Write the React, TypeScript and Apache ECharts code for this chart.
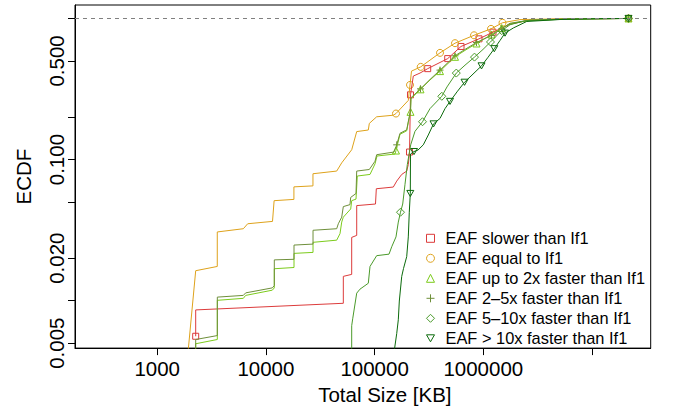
import React, { useEffect, useRef } from "react";
import * as echarts from "echarts";

// ---- axis ticks / labels ----
const xTickValues = [1000, 10000, 100000, 1000000, 10000000];
const xLabelValues = [1000, 10000, 100000, 1000000];
const yTickValues = [0.005, 0.01, 0.02, 0.05, 0.1, 0.2, 0.5, 1];
const yLabelValues = [0.005, 0.02, 0.1, 0.5];
const xRangeKB = [175.3, 34670000];
const yRange = [0.004613, 1.2458];

// ---- series names / colours ----
const seriesNames = [
  "EAF slower than If1",
  "EAF equal to If1",
  "EAF up to 2x faster than If1",
  "EAF 2–5x faster than If1",
  "EAF 5–10x faster than If1",
  "EAF > 10x faster than If1",
];
const seriesColors = ["#DC3B3B", "#DEA21B", "#7CCB1C", "#6E8F3A", "#4A9A2A", "#0B6A0B"];

// ---- EAF slower than If1 ----
const slowerKB = [2260, 2260, 51540, 51540, 61550, 61550, 68450, 68450, 101900, 103700, 148600, 159700, 177600, 197400, 204200, 209500, 213900, 227000, 261600, 307900, 470500, 623500, 912700, 1228000, 1761000, 2689000, 6276000, 21670000];
const slowerF = [0.005596, 0.008603, 0.009583, 0.01487, 0.01536, 0.02809, 0.02902, 0.04719, 0.04842, 0.06213, 0.06386, 0.07036, 0.07847, 0.0829, 0.09218, 0.1131, 0.2877, 0.3908, 0.4102, 0.441, 0.5195, 0.6333, 0.7172, 0.8, 0.91, 0.9754, 0.9944, 1];
const slowerMarks = [0, 15, 16, 19, 20, 21, 22, 23, 27];

// ---- EAF equal to If1 ----
const equalKB = [1750, 2260, 3570, 3570, 6200, 6800, 11500, 11900, 18100, 18100, 27100, 27100, 44800, 49800, 61600, 68450, 87500, 89400, 104500, 148600, 157300, 204200, 211700, 218500, 265600, 399600, 549200, 821100, 1177000, 1502000, 2176000, 5077000, 21670000];
const equalF = [0.002, 0.01631, 0.01748, 0.03069, 0.03236, 0.03509, 0.03647, 0.05114, 0.05222, 0.06406, 0.0651, 0.07937, 0.0829, 0.09475, 0.1174, 0.1579, 0.162, 0.1804, 0.201, 0.2062, 0.212, 0.2626, 0.3381, 0.4236, 0.4539, 0.5706, 0.6682, 0.76, 0.844, 0.9324, 0.9817, 0.9944, 1];
const equalMarks = [20, 22, 24, 25, 26, 27, 28, 29, 32];

// ---- EAF up to 2x faster than If1 ----
const upTo2KB = [2260, 2260, 3573, 3573, 6197, 6518, 11454, 11949, 11949, 18137, 18137, 27131, 27131, 44800, 48060, 49820, 51540, 60260, 61550, 67440, 69330, 90720, 100900, 105200, 154000, 157300, 171300, 197400, 204200, 213900, 216100, 264400, 323300, 399600, 549200, 678800, 865800, 1190000, 1477000, 1761000, 2689000, 6276000, 21670000];
const upTo2F = [0.002154, 0.004952, 0.005307, 0.01006, 0.01039, 0.0109, 0.01187, 0.01232, 0.01684, 0.01719, 0.02164, 0.02199, 0.02592, 0.02685, 0.02986, 0.03606, 0.03908, 0.04467, 0.05114, 0.05247, 0.07647, 0.07847, 0.09324, 0.106, 0.1095, 0.1159, 0.1511, 0.1599, 0.1834, 0.2179, 0.2699, 0.3146, 0.3664, 0.4236, 0.535, 0.594, 0.665, 0.7704, 0.8561, 0.9175, 0.9707, 0.9912, 1];
const upTo2Marks = [25, 29, 31, 33, 34, 36, 37, 38, 42];

// ---- EAF 2-5x faster than If1 ----
const x2to5KB = [2260, 2260, 3573, 3573, 6197, 6518, 11454, 11949, 11949, 18137, 18137, 27131, 27131, 44800, 46360, 49820, 51540, 59380, 60260, 67440, 68450, 89400, 100900, 104500, 150800, 159700, 171300, 197400, 204200, 213900, 216100, 264400, 323300, 399600, 549200, 678800, 865800, 1190000, 1477000, 1761000, 2689000, 6276000, 21670000];
const x2to5F = [0.002154, 0.005307, 0.005659, 0.0106, 0.0109, 0.01136, 0.01232, 0.0128, 0.01946, 0.01965, 0.02478, 0.02518, 0.03155, 0.03236, 0.03509, 0.03908, 0.04643, 0.04795, 0.05393, 0.05751, 0.0829, 0.08506, 0.09738, 0.1083, 0.1131, 0.1272, 0.1536, 0.1625, 0.1863, 0.2225, 0.2743, 0.3171, 0.3694, 0.4305, 0.5437, 0.6036, 0.6758, 0.7582, 0.8451, 0.9249, 0.9738, 0.9928, 1];
const x2to5Marks = [25, 31, 33, 34, 36, 37, 38, 42];

// ---- EAF 5-10x faster than If1 ----
const x5to10KB = [61550, 61550, 62870, 68450, 73390, 87500, 90720, 104500, 135700, 143700, 157300, 165200, 173100, 181400, 190400, 200000, 214800, 235300, 275900, 323300, 415100, 463600, 564500, 678800, 829800, 993600, 1165000, 1477000, 1761000, 2419000, 6276000, 21670000];
const x5to10F = [0.002154, 0.006647, 0.007441, 0.01131, 0.01207, 0.01329, 0.01748, 0.02085, 0.02137, 0.02411, 0.02832, 0.03606, 0.04235, 0.04842, 0.06679, 0.09218, 0.1272, 0.1586, 0.1854, 0.2297, 0.2809, 0.3273, 0.4102, 0.4666, 0.5324, 0.6036, 0.6814, 0.82, 0.9028, 0.9629, 0.9912, 1];
const x5to10Marks = [12, 18, 20, 22, 24, 26, 27, 31];

// ---- EAF > 10x faster than If1 ----
const over10KB = [132800, 159700, 165200, 168800, 177600, 184500, 197400, 204200, 208500, 213000, 213900, 230300, 250800, 280500, 311900, 348300, 399600, 444400, 494000, 573000, 671700, 787000, 962500, 1105000, 1262000, 1424000, 1584000, 1888000, 2507000, 5077000, 11850000, 21670000];
const over10F = [0.002154, 0.005845, 0.007322, 0.009945, 0.01487, 0.01692, 0.02052, 0.02832, 0.04235, 0.05751, 0.1095, 0.114, 0.1168, 0.1272, 0.1494, 0.179, 0.1956, 0.2297, 0.2584, 0.302, 0.3531, 0.3971, 0.4613, 0.5307, 0.6105, 0.698, 0.7873, 0.8561, 0.9521, 0.9833, 0.9961, 1];
const over10Marks = [9, 11, 15, 18, 20, 22, 24, 26, 31];

const FONT = "'Liberation Sans', Arial, Helvetica, sans-serif";

const symbols = [
  "rect",
  "circle",
  "triangle",
  "path://M3.5,0 L3.5,7 M0,3.5 L7,3.5",
  "diamond",
  "path://M0,0 L8,0 L4,7 Z",
];
const symbolSizes = [6, 7, 7, 7, 8, 7];

export default function App() {
  const ref = useRef<HTMLDivElement>(null);
  useEffect(() => {
    if (!ref.current) return;
    const chart = echarts.init(ref.current, undefined, { renderer: "svg" });
    const groups = [
      { kb: slowerKB, f: slowerF, marks: slowerMarks },
      { kb: equalKB, f: equalF, marks: equalMarks },
      { kb: upTo2KB, f: upTo2F, marks: upTo2Marks },
      { kb: x2to5KB, f: x2to5F, marks: x2to5Marks },
      { kb: x5to10KB, f: x5to10F, marks: x5to10Marks },
      { kb: over10KB, f: over10F, marks: over10Marks },
    ];
    const series: any[] = [];
    groups.forEach((g, gi) => {
      const pts = g.kb.map((v, i) => [Math.log10(v), Math.log10(g.f[i])]);
      const line: any = {
        type: "line",
        name: seriesNames[gi] + " (line)",
        data: pts,
        showSymbol: false,
        symbol: "none",
        silent: true,
        clip: true,
        lineStyle: { color: seriesColors[gi], width: 1 },
        itemStyle: { color: seriesColors[gi] },
      };
      if (gi === 0) {
        line.markLine = {
          silent: true,
          symbol: ["none", "none"],
          label: { show: false },
          lineStyle: { color: "#808080", type: [4, 4], width: 1 },
          data: [{ yAxis: 0 }],
        };
      }
      series.push(line);
      series.push({
        type: "scatter",
        name: seriesNames[gi],
        data: g.marks.map((i) => pts[i]),
        symbol: symbols[gi],
        symbolSize: symbolSizes[gi],
        symbolKeepAspect: true,
        silent: true,
        clip: true,
        itemStyle: {
          color: "transparent",
          borderColor: seriesColors[gi],
          borderWidth: 1,
          opacity: 1,
        },
      });
    });

    const option: any = {
      animation: false,
      backgroundColor: "#fff",
      textStyle: { fontFamily: FONT },
      grid: {
        left: 75,
        top: 5,
        right: 32.3,
        bottom: 57.3,
        show: true,
        borderColor: "#000",
        borderWidth: 1,
        containLabel: false,
      },
      legend: {
        orient: "vertical",
        left: 421,
        top: 223.3,
        itemWidth: 8,
        itemHeight: 8,
        itemGap: 0,
        symbolKeepAspect: true,
        selectedMode: false,
        data: seriesNames,
        itemStyle: { borderWidth: 1 },
        textStyle: {
          fontSize: 16.4,
          color: "#000",
          lineHeight: 20,
          fontFamily: FONT,
          padding: [0, 0, 0, 6],
        },
      },
      xAxis: {
        type: "value",
        min: Math.log10(xRangeKB[0]),
        max: Math.log10(xRangeKB[1]),
        axisLine: { show: true, onZero: false, lineStyle: { color: "#000", width: 1 } },
        axisTick: {
          show: true,
          length: 7,
          lineStyle: { color: "#000" },
          customValues: xTickValues.map((v) => Math.log10(v)),
        },
        axisLabel: {
          customValues: xLabelValues.map((v) => Math.log10(v)),
          formatter: (v: number) => String(Math.round(Math.pow(10, v))),
          fontSize: 20.5,
          color: "#000",
          margin: 10,
          fontFamily: FONT,
        },
        splitLine: { show: false },
        name: "Total Size [KB]",
        nameLocation: "middle",
        nameGap: 34,
        nameTextStyle: { fontSize: 20.5, color: "#000", fontFamily: FONT, padding: [0, 0, 0, 44] },
      },
      yAxis: {
        type: "value",
        min: Math.log10(yRange[0]),
        max: Math.log10(yRange[1]),
        axisLine: { show: true, onZero: false, lineStyle: { color: "#000", width: 1 } },
        axisTick: {
          show: true,
          length: 7,
          lineStyle: { color: "#000" },
          customValues: yTickValues.map((v) => Math.log10(v)),
        },
        axisLabel: {
          customValues: yLabelValues.map((v) => Math.log10(v)),
          formatter: (v: number) => Math.pow(10, v).toFixed(3),
          rotate: 90,
          fontSize: 20.5,
          color: "#000",
          margin: 8,
          fontFamily: FONT,
        },
        splitLine: { show: false },
        name: "ECDF",
        nameLocation: "middle",
        nameGap: 41,
        nameRotate: 90,
        nameTextStyle: { fontSize: 20.5, color: "#000", fontFamily: FONT },
      },
      series,
    };
    chart.setOption(option);
    return () => chart.dispose();
  }, []);
  return (
    <div
      ref={ref}
      style={{ position: "absolute", left: 0, top: 0, width: 683, height: 410 }}
    />
  );
}
